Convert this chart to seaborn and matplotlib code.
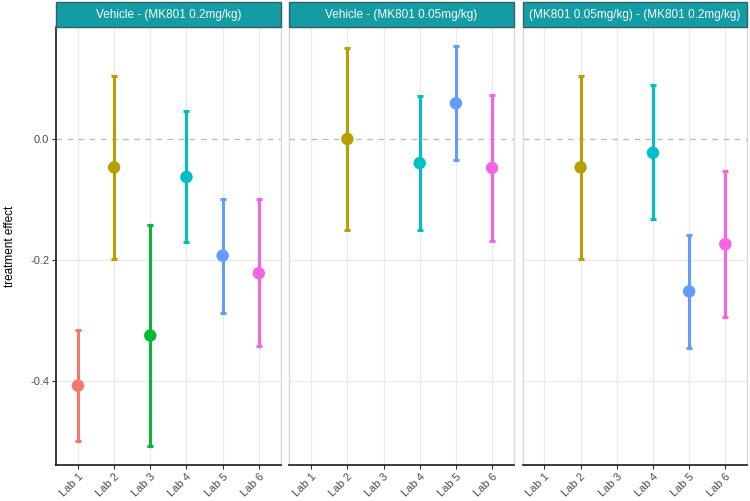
import numpy as np
import pandas as pd
import matplotlib
matplotlib.use("Agg")
import matplotlib.pyplot as plt
import seaborn as sns
from matplotlib.patches import Rectangle

sns.set_theme(style="white")
plt.rcParams['font.family'] = ['Liberation Sans', 'DejaVu Sans']

labs = ["Lab 1", "Lab 2", "Lab 3", "Lab 4", "Lab 5", "Lab 6"]
lab_colors = ["#F8766D", "#B79F00", "#00BA38", "#00BFC4", "#619CFF", "#F564E3"]

contrasts = ["Vehicle - (MK801 0.2mg/kg)",
             "Vehicle - (MK801 0.05mg/kg)",
             "(MK801 0.05mg/kg) - (MK801 0.2mg/kg)"]

# estimates and 95% intervals per contrast (NaN = lab not in contrast)
est_c1 = [-0.408, -0.047, -0.325, -0.063, -0.193, -0.222]
low_c1 = [-0.499, -0.198, -0.507, -0.171, -0.288, -0.343]
upp_c1 = [-0.316, 0.104, -0.143, 0.046, -0.100, -0.100]

est_c2 = [np.nan, 0.000, np.nan, -0.040, 0.059, -0.048]
low_c2 = [np.nan, -0.151, np.nan, -0.151, -0.034, -0.168]
upp_c2 = [np.nan, 0.151, np.nan, 0.071, 0.154, 0.073]

est_c3 = [np.nan, -0.047, np.nan, -0.023, -0.252, -0.174]
low_c3 = [np.nan, -0.198, np.nan, -0.133, -0.346, -0.294]
upp_c3 = [np.nan, 0.104, np.nan, 0.089, -0.159, -0.053]

frames = []
for name, e, lo, up in zip(contrasts,
                           [est_c1, est_c2, est_c3],
                           [low_c1, low_c2, low_c3],
                           [upp_c1, upp_c2, upp_c3]):
    frames.append(pd.DataFrame({"contrast": name, "lab": labs,
                                "est": e, "lower": lo, "upper": up}))
df = pd.concat(frames, ignore_index=True)
df["pos"] = df["lab"].map({l: i for i, l in enumerate(labs)})

palette = dict(zip(labs, lab_colors))

fig, axes = plt.subplots(1, 3, figsize=(7.5, 5.01), dpi=100, sharey=True)
fig.subplots_adjust(left=0.075, right=0.996, bottom=0.072, top=0.946, wspace=0.04)

strip_h = 25 / 438

for k, (ax, name) in enumerate(zip(axes, contrasts)):
    sub = df[df["contrast"] == name].dropna()

    # grid + zero reference line
    for x in range(len(labs)):
        ax.axvline(x, color="#EBEBEB", lw=1.0, zorder=0)
    for y in [-0.4, -0.2]:
        ax.axhline(y, color="#EBEBEB", lw=1.0, zorder=0)
    ax.axhline(0, color="#BDBDBD", lw=1.0, ls=(0, (4, 4)), zorder=1)

    for _, r in sub.iterrows():
        ax.errorbar(r["pos"], r["est"],
                    yerr=[[r["est"] - r["lower"]], [r["upper"] - r["est"]]],
                    fmt="none", ecolor=palette[r["lab"]], elinewidth=2.2,
                    capsize=2.4, capthick=2.2, zorder=2)
    sns.scatterplot(data=sub, x="pos", y="est", hue="lab", palette=palette,
                    s=80, edgecolor="none", legend=False, ax=ax, zorder=3)

    ax.set_xlim(-0.6, 5.6)
    ax.set_ylim(-0.539, 0.185)
    ax.set_xticks(range(len(labs)))
    ax.set_xticklabels(labs, rotation=45, ha="right", rotation_mode="anchor",
                       fontsize=8, color="#4D4D4D")
    ax.set_xlabel("")
    ax.set_ylabel("")
    ax.tick_params(axis="x", length=3, width=0.8, color="#333333", pad=2,
                   bottom=True)

    for side in ["top", "right"]:
        ax.spines[side].set_color("#D9D9D9")
        ax.spines[side].set_linewidth(1.0)
    ax.spines["bottom"].set_color("#1A1A1A")
    ax.spines["bottom"].set_linewidth(1.2)
    if k == 0:
        ax.spines["left"].set_color("#1A1A1A")
        ax.spines["left"].set_linewidth(1.2)
        ax.tick_params(axis="y", length=3, width=0.8, color="#333333", pad=2,
                       left=True, labelsize=8, labelcolor="#4D4D4D")
    else:
        ax.spines["left"].set_color("#D9D9D9")
        ax.spines["left"].set_linewidth(1.0)
        ax.tick_params(axis="y", left=False)

    # facet strip
    ax.add_patch(Rectangle((0, 1.0), 1, strip_h, transform=ax.transAxes,
                           facecolor="#129CA3", edgecolor="#3A5F62", lw=1.0,
                           clip_on=False, zorder=5))
    ax.text(0.5, 1.0 + strip_h / 2, name, transform=ax.transAxes,
            ha="center", va="center", color="white", fontsize=8.5, zorder=6)

axes[0].set_yticks([-0.4, -0.2, 0.0])
axes[0].set_yticklabels(["-0.4", "-0.2", "0.0"])
axes[0].set_ylabel("treatment effect", fontsize=8.5, color="black", labelpad=10)

fig.savefig("out.png", dpi=100)
